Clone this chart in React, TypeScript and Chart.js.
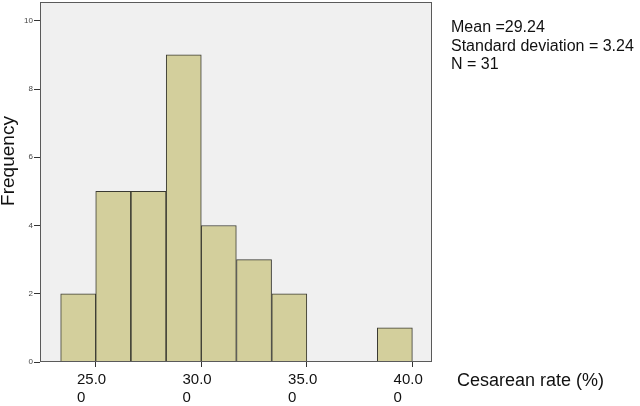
import React, { useEffect, useRef } from "react";
import { Chart, registerables } from "chart.js";

Chart.register(...registerables);

// Histogram bins (centres of each bin, in %) and their frequencies
const binCenters = [24.17, 25.83, 27.5, 29.17, 30.83, 32.5, 34.17, 39.17];
const frequencies = [2, 5, 5, 9, 4, 3, 2, 1];
const xTickValues = [25, 30, 35, 40];
const xTickLabels = [["25.0  ", "0       "], ["30.0  ", "0       "], ["35.0  ", "0       "], ["40.0  ", "0       "]];
const yTickValues = [0, 2, 4, 6, 8, 10];
const statsLines = ["Mean =29.24", "Standard deviation = 3.24", "N = 31"];
const xTitle = "Cesarean rate (%)";
const yTitle = "Frequency";

const FONT = "'Liberation Sans', Arial, sans-serif";

const decorPlugin = {
  id: "decor",
  beforeDraw(chart: any) {
    const { ctx, chartArea: a } = chart;
    ctx.save();
    ctx.fillStyle = "#f0f0f0";
    ctx.fillRect(a.left, a.top, a.right - a.left, a.bottom - a.top);
    ctx.restore();
  },
  afterDraw(chart: any) {
    const { ctx, chartArea: a } = chart;
    ctx.save();
    ctx.strokeStyle = "#5a5a5a";
    ctx.lineWidth = 1;
    ctx.strokeRect(Math.round(a.left) + 0.5, Math.round(a.top) + 0.5, Math.round(a.right - a.left) - 1, Math.round(a.bottom - a.top) - 1);
    ctx.fillStyle = "#111";
    ctx.textBaseline = "middle";
    ctx.textAlign = "left";
    ctx.font = `16px ${FONT}`;
    statsLines.forEach((t, i) => ctx.fillText(t, 451, 28 + i * 18.4));
    ctx.font = `18px ${FONT}`;
    ctx.fillText(xTitle, 457, 381);
    ctx.translate(9, 161);
    ctx.rotate(-Math.PI / 2);
    ctx.textAlign = "center";
    ctx.font = `19px ${FONT}`;
    ctx.fillText(yTitle, 0, 0);
    ctx.restore();
  },
};

export default function App() {
  const ref = useRef<HTMLCanvasElement>(null);
  useEffect(() => {
    document.body.style.margin = "0";
    const chart = new Chart(ref.current as HTMLCanvasElement, {
      type: "bar",
      data: {
        datasets: [
          {
            data: binCenters.map((x, i) => ({ x, y: frequencies[i] })) as any,
            backgroundColor: "#d3cf9c",
            borderColor: "#3a3a32",
            borderWidth: 1,
            barPercentage: 1,
            categoryPercentage: 1,
          },
        ],
      },
      options: {
        animation: false,
        responsive: true,
        maintainAspectRatio: false,
        layout: { padding: { top: 2, right: 208, left: 0, bottom: 0 } },
        plugins: { legend: { display: false }, tooltip: { enabled: false } },
        scales: {
          x: {
            type: "linear",
            min: 22.36,
            max: 40.93,
            offset: false,
            afterBuildTicks: (s: any) => {
              s.ticks = xTickValues.map((v) => ({ value: v }));
            },
            afterFit: (s: any) => {
              s.height = 44;
              s.paddingLeft = 0;
              s.paddingRight = 0;
            },
            ticks: {
              autoSkip: false,
              maxRotation: 0,
              padding: 4,
              color: "#111",
              font: { family: FONT, size: 15, lineHeight: 1.2 },
              callback: (v: any) => {
                const i = xTickValues.indexOf(Number(v));
                return i >= 0 ? xTickLabels[i] : "";
              },
            },
            grid: { offset: false, drawOnChartArea: false, drawTicks: true, tickLength: 5, color: "#333" },
            border: { display: false },
          },
          y: {
            type: "linear",
            min: 0,
            max: 10.55,
            afterBuildTicks: (s: any) => {
              s.ticks = yTickValues.map((v) => ({ value: v }));
            },
            afterFit: (s: any) => {
              s.width = 40;
              s.paddingTop = 0;
              s.paddingBottom = 0;
            },
            ticks: {
              padding: 1,
              color: "#444",
              font: { family: FONT, size: 8 },
            },
            grid: { drawOnChartArea: false, drawTicks: true, tickLength: 6, color: "#333" },
            border: { display: false },
          },
        },
      },
      plugins: [decorPlugin],
    });
    return () => chart.destroy();
  }, []);
  return (
    <div style={{ width: 640, height: 406, position: "relative", background: "#fff" }}>
      <canvas ref={ref} />
    </div>
  );
}
